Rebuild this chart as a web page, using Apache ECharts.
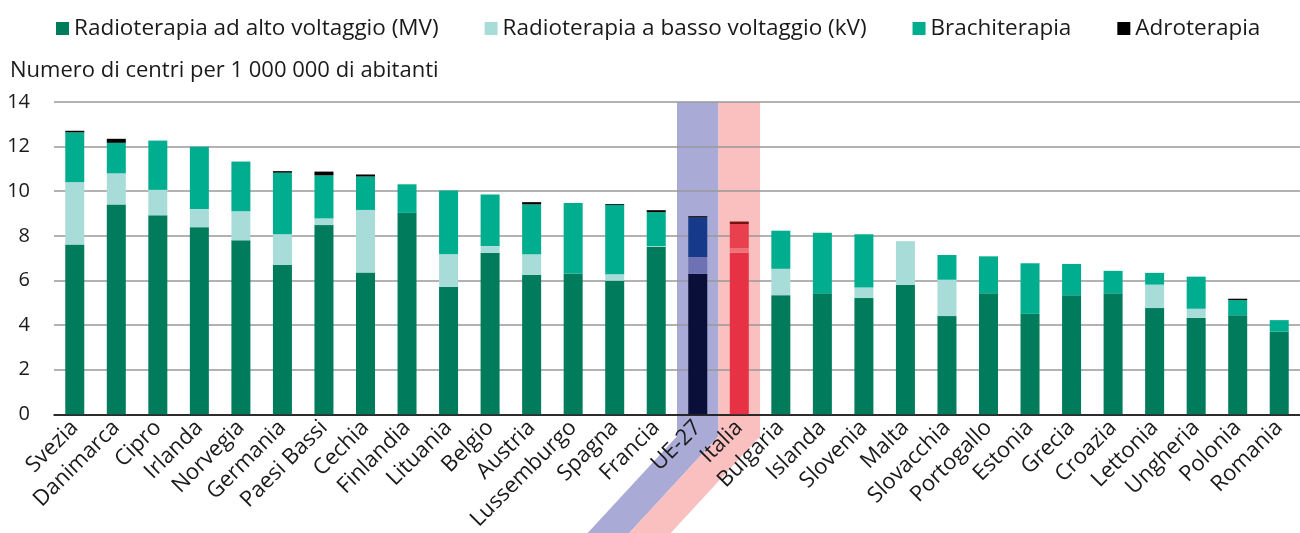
<!DOCTYPE html>
<html>
<head>
<meta charset="utf-8">
<script src="https://cdn.jsdelivr.net/npm/echarts@6/dist/echarts.min.js"></script>
<style>
    html, body { margin: 0; padding: 0; background: #ffffff; }
    #chart { width: 1300px; height: 533px; }
</style>
</head>
<body>
<div id="chart"></div>
<script>
    // dati (centri per 1 000 000 di abitanti)
    const categories = ['Svezia', 'Danimarca', 'Cipro', 'Irlanda', 'Norvegia', 'Germania', 'Paesi Bassi', 'Cechia',
        'Finlandia', 'Lituania', 'Belgio', 'Austria', 'Lussemburgo', 'Spagna', 'Francia', 'UE-27', 'Italia',
        'Bulgaria', 'Islanda', 'Slovenia', 'Malta', 'Slovacchia', 'Portogallo', 'Estonia', 'Grecia', 'Croazia',
        'Lettonia', 'Ungheria', 'Polonia', 'Romania'];
    const mv      = [7.61, 9.41, 8.92, 8.39, 7.80, 6.70, 8.48, 6.36, 9.03, 5.72, 7.24, 6.25, 6.31, 5.99, 7.51, 6.30, 7.24,
        5.34, 5.43, 5.21, 5.81, 4.40, 5.43, 4.50, 5.34, 5.43, 4.76, 4.32, 4.44, 3.70];
    const kv      = [2.80, 1.39, 1.14, 0.81, 1.30, 1.37, 0.30, 2.80, 0, 1.45, 0.30, 0.92, 0, 0.29, 0.03, 0.75, 0.21,
        1.18, 0, 0.47, 1.95, 1.63, 0, 0, 0, 0, 1.05, 0.41, 0, 0];
    const brachy  = [2.23, 1.37, 2.21, 2.79, 2.23, 2.76, 1.93, 1.50, 1.28, 2.86, 2.31, 2.24, 3.16, 3.10, 1.52, 1.77, 1.08,
        1.71, 2.71, 2.39, 0, 1.11, 1.65, 2.27, 1.40, 1.00, 0.53, 1.44, 0.68, 0.52];
    const adro    = [0.07, 0.18, 0, 0, 0, 0.07, 0.17, 0.09, 0, 0, 0, 0.10, 0, 0.04, 0.09, 0.06, 0.11,
        0, 0, 0, 0, 0, 0, 0, 0, 0, 0, 0, 0.06, 0];
    const yTicks = [0, 2, 4, 6, 8, 10, 12, 14];

    const seriesNames = ['Radioterapia ad alto voltaggio (MV)', 'Radioterapia a basso voltaggio (kV)', 'Brachiterapia', 'Adroterapia'];
    const baseColors = ['#007b5c', '#a8dcd9', '#00ae8f', '#000000'];
    const euColors = ['#0a0f3a', '#6e72b2', '#16398a', '#000000'];
    const itColors = ['#e63244', '#f07078', '#e8404f', '#7a1010'];
    const highlights = { 'UE-27': { colors: euColors, band: '#a9aad6' }, 'Italia': { colors: itColors, band: '#f9c0bf' } };

    const font = '"Open Sans", sans-serif';
    const chart = echarts.init( document.getElementById( 'chart' ) );

    function buildData( values, idx ) {
        return values.map( ( v, i ) => {
            const h = highlights[ categories[ i ] ];
            return h ? { value: v, itemStyle: { color: h.colors[ idx ] } } : v;
        } );
    }

    chart.setOption( {
        animation: false,
        backgroundColor: '#ffffff',
        title: {
            text: 'Numero di centri per 1 000 000 di abitanti',
            left: 5,
            top: 55,
            textStyle: { fontFamily: font, fontSize: 22, fontWeight: 'normal', color: '#1a1a1a' }
        },
        legend: {
            left: 51,
            top: 12,
            itemWidth: 13,
            itemHeight: 13,
            itemGap: 46,
            icon: 'rect',
            textStyle: { fontFamily: font, fontSize: 22.5, color: '#1a1a1a' },
            data: seriesNames
        },
        grid: { left: 54, top: 102, width: 1252, height: 316, containLabel: false },
        xAxis: {
            type: 'category',
            data: categories,
            axisLine: { lineStyle: { color: '#000000', width: 1.5 } },
            axisTick: { show: false },
            axisLabel: { interval: 0, rotate: 45, margin: 10, fontFamily: font, fontSize: 22, color: '#1a1a1a' }
        },
        yAxis: {
            type: 'value',
            min: yTicks[ 0 ],
            max: yTicks[ yTicks.length - 1 ],
            interval: 2,
            axisLine: { show: false },
            axisTick: { show: false },
            axisLabel: { margin: 24, fontFamily: font, fontSize: 20, color: '#1a1a1a' },
            splitLine: { lineStyle: { color: '#999999', width: 1.5 } }
        },
        series: [ mv, kv, brachy, adro ].map( ( vals, k ) => ( {
            name: seriesNames[ k ],
            type: 'bar',
            stack: 'tot',
            barWidth: 19,
            itemStyle: { color: baseColors[ k ] },
            emphasis: { disabled: true },
            data: buildData( vals, k )
        } ) )
    } );

    // fasce evidenziate per UE-27 e Italia, calcolate dalla posizione delle categorie
    const half = chart.getModel().getComponent( 'xAxis', 0 ).axis.getBandWidth() / 2;
    const yTop = chart.convertToPixel( { yAxisIndex: 0 }, yTicks[ yTicks.length - 1 ] );
    const yBase = chart.convertToPixel( { yAxisIndex: 0 }, 0 );
    const drop = 22, slantX = 120, slantY = 130;
    const bands = Object.keys( highlights ).map( name => {
        const cx = chart.convertToPixel( { xAxisIndex: 0 }, name );
        const l = cx - half, r = cx + half, y0 = yBase + drop;
        return {
            type: 'polygon',
            z: -10,
            silent: true,
            shape: { points: [ [ l, yTop ], [ r, yTop ], [ r, y0 ], [ r - slantX, y0 + slantY ], [ l - slantX, y0 + slantY ], [ l, y0 ] ] },
            style: { fill: highlights[ name ].band }
        };
    } );
    chart.setOption( { graphic: bands } );
</script>
</body>
</html>
